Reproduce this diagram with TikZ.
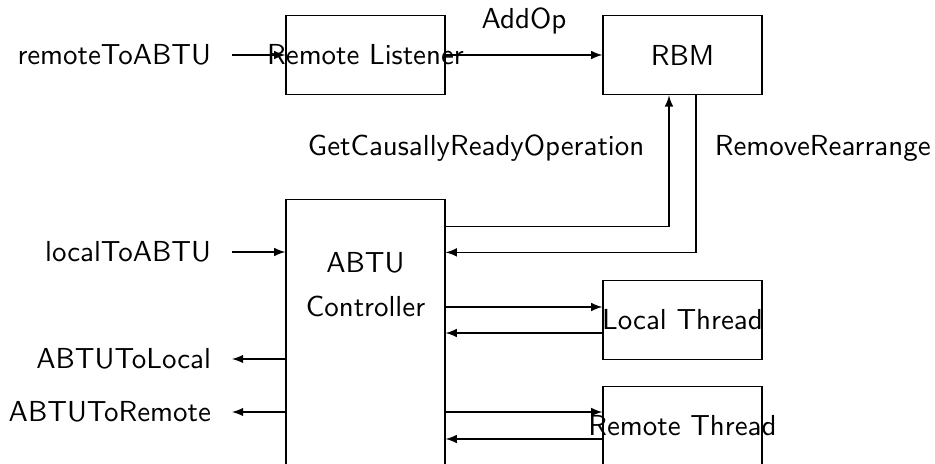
\documentclass[tikz,border=0pt]{standalone}
\usetikzlibrary{calc}
\begin{document}
\begin{tikzpicture}[x=0.012579cm,y=-0.012579cm,
  every node/.style={font=\sffamily\fontsize{10.35}{12.4}\selectfont},
  box/.style={draw, minimum width=2cm, minimum height=1cm, inner sep=0pt},
  lbl/.style={anchor=east, outer xsep=4.2pt},
  arr/.style={-latex}]
\useasboundingbox (0,0) rectangle (935,464);
% boxes
\node[box] (rl) at (365.5,55) {\makebox[0pt]{Remote Listener}};
\node[box] (rbm) at (682.5,55) {RBM};
\node[box, minimum height=4cm] (abtu) at (365.5,359) {};
\node[anchor=base] (abtu1) at (365.5,273) {ABTU};
\node[anchor=base] (abtu2) at (365.5,317) {Controller};
\node[box] (lt) at (682.5,320) {\makebox[0pt]{Local Thread}};
\node[box] (rt) at (682.5,426) {\makebox[0pt]{Remote Thread}};
% left labels
\node[lbl] (rta) at (232,55) {remoteToABTU};
\node[lbl] (lta) at (232,252) {localToABTU};
\node[lbl] (atl) at (232,359) {ABTUToLocal};
\node[lbl] (atr) at (232,412) {ABTUToRemote};
% connectors
\draw[arr] (rta) -- (rta -| rl.west);
\draw[arr] (lta) -- (lta -| abtu.west);
\draw[arr] (atl -| abtu.west) -- (atl);
\draw[arr] (atr -| abtu.west) -- (atr);
\draw[arr] (rl.east) -- node[above=4pt] (addop) {AddOp} (rbm.west);
\draw[arr] ($(abtu.north east)+(0,27)$) -| node[pos=0.8, left=5.3pt] (gcro) {GetCausallyReadyOperation} ($(rbm.south)+(-13.5,0)$);
\draw[arr] ($(rbm.south)+(13.5,0)$) |- node[pos=0.168, right=3.2pt] (rr) {RemoveRearrange} ($(abtu.north east)+(0,53)$);
\draw[arr] ($(abtu.east |- lt)+(0,-13)$) -- ($(lt.west)+(0,-13)$);
\draw[arr] ($(lt.west)+(0,13)$) -- ($(abtu.east |- lt)+(0,13)$);
\draw[arr] ($(abtu.east |- rt)+(0,-14)$) -- ($(rt.west)+(0,-14)$);
\draw[arr] ($(rt.west)+(0,13)$) -- ($(abtu.east |- rt)+(0,13)$);
\end{tikzpicture}
\end{document}
